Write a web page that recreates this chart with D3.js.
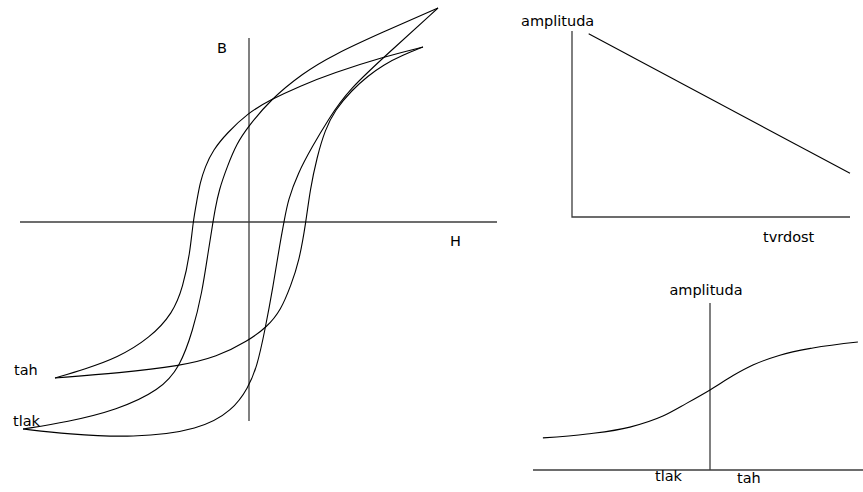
<!DOCTYPE html>
<html>
<head>
<meta charset="utf-8">
<script src="https://cdn.jsdelivr.net/npm/d3@7"></script>
<style>
  html, body { margin: 0; padding: 0; background: #fff; }
  svg { display: block; }
  text { font-family: "DejaVu Sans", Verdana, sans-serif; font-size: 14.5px; fill: #000; }
</style>
</head>
<body>
<svg id="chart" width="863" height="492"></svg>
<script>
// ---- Hysteresis diagram (H, B) ----
const hAxisDomain = [-11.45, 12.4];
const bAxisDomain = [-9.95, 9.2];

// loop under tension ("tah"): descending and ascending branches
const tahDescH = [8.7, 6.7, 4.2, 2.55, 1.05, -0.05, -1.1, -1.8, -2.2, -2.45, -2.6, -2.8, -2.95, -3.3, -3.8, -4.95, -6.6, -8.2, -9.7];
const tahDescB = [8.75, 8.25, 7.45, 6.8, 6.1, 5.45, 4.45, 3.6, 2.75, 1.95, 1.1, 0, -1.55, -3.25, -4.55, -5.8, -6.8, -7.35, -7.8];
const tahAscH = [-9.7, -6.45, -3.45, -1.6, -0.05, 0.9, 1.6, 2.1, 2.5, 2.85, 3.05, 3.4, 3.8, 4.3, 5.15, 5.95, 6.7, 7.7, 8.7];
const tahAscB = [-7.8, -7.55, -7.2, -6.75, -5.95, -5.25, -4.4, -3.15, -2.0, 0, 1.6, 3.25, 4.6, 5.6, 6.6, 7.3, 7.85, 8.35, 8.75];

// loop under compression ("tlak")
const tlakDescH = [9.45, 6.7, 4.2, 2.7, 1.05, -0.05, -0.6, -1.1, -1.5, -1.7, -1.8, -2.05, -2.35, -2.8, -3.45, -4.45, -6.6, -9.1, -11.3];
const tlakDescB = [10.7, 9.5, 8.35, 7.45, 6.1, 4.75, 3.95, 2.75, 1.6, 0.6, 0, -1.55, -3.55, -5.4, -7.25, -8.4, -9.4, -10.0, -10.35];
const tlakAscH = [-11.3, -9.1, -5.8, -2.45, -0.8, -0.05, 0.4, 0.8, 1.2, 1.55, 1.75, 1.95, 2.45, 3.15, 3.95, 4.95, 7.2, 9.45];
const tlakAscB = [-10.35, -10.6, -10.8, -10.4, -9.4, -8.3, -7.25, -5.4, -3.25, -1.05, 0, 1.1, 2.45, 3.75, 5.1, 6.6, 8.65, 10.7];

// ---- amplitude vs. hardness ----
const hardDomain = [0, 10];
const ampDomain = [0, 10];
const hardness = [0.6, 10.0];
const amplitudeByHardness = [9.85, 2.35];

// ---- amplitude vs. load (compression .. tension) ----
const loadDomain = [-5.9, 5.1];
const ampLoadDomain = [0, 5.57];
const load = [-5.57, -4.1, -2.67, -1.57, -0.77, 0, 0.77, 1.43, 2.33, 3.43, 4.93];
const amplitudeByLoad = [1.07, 1.2, 1.43, 1.8, 2.23, 2.67, 3.15, 3.5, 3.83, 4.07, 4.27];

const svg = d3.select("#chart");
const zip = (xs, ys) => xs.map((x, i) => [x, ys[i]]);
const axisStyle = sel => sel.attr("stroke", "#3c3c3c").attr("stroke-width", 1.3).attr("fill", "none");
const curveStyle = sel => sel.attr("stroke", "#000").attr("stroke-width", 1.1).attr("fill", "none");

// Hysteresis panel
const x1 = d3.scaleLinear().domain(hAxisDomain).range([20, 497]);
const y1 = d3.scaleLinear().domain(bAxisDomain).range([421, 38]);
const g1 = svg.append("g");
g1.append("line").call(axisStyle)
  .attr("x1", x1(hAxisDomain[0])).attr("x2", x1(hAxisDomain[1]))
  .attr("y1", y1(0)).attr("y2", y1(0));
g1.append("line").call(axisStyle)
  .attr("x1", x1(0)).attr("x2", x1(0))
  .attr("y1", y1(bAxisDomain[0])).attr("y2", y1(bAxisDomain[1]));

// each branch is a smooth B-spline from one loop tip to the other
const loopLine = d3.line().x(d => x1(d[0])).y(d => y1(d[1])).curve(d3.curveBasis);
[
  zip(tahDescH, tahDescB), zip(tahAscH, tahAscB),
  zip(tlakDescH, tlakDescB), zip(tlakAscH, tlakAscB)
].forEach(branch => g1.append("path").call(curveStyle).attr("d", loopLine(branch)));

g1.append("text").attr("x", 217).attr("y", 53).text("B");
g1.append("text").attr("x", 450).attr("y", 246).text("H");
g1.append("text").attr("x", 14).attr("y", 375).text("tah");
g1.append("text").attr("x", 13).attr("y", 426).text("tlak");

// Amplitude vs. hardness panel
const x2 = d3.scaleLinear().domain(hardDomain).range([572, 850]);
const y2 = d3.scaleLinear().domain(ampDomain).range([217, 31]);
const g2 = svg.append("g");
g2.append("path").call(axisStyle)
  .attr("d", `M${x2(0)},${y2(ampDomain[1])}V${y2(0)}H${x2(hardDomain[1])}`);
g2.append("path").call(curveStyle)
  .attr("d", d3.line().x(d => x2(d[0])).y(d => y2(d[1]))(zip(hardness, amplitudeByHardness)));
g2.append("text").attr("x", 521).attr("y", 26).text("amplituda");
g2.append("text").attr("x", 763).attr("y", 242).text("tvrdost");

// Amplitude vs. load panel
const x3 = d3.scaleLinear().domain(loadDomain).range([533, 863]);
const y3 = d3.scaleLinear().domain(ampLoadDomain).range([470, 303]);
const g3 = svg.append("g");
g3.append("line").call(axisStyle)
  .attr("x1", x3(loadDomain[0])).attr("x2", x3(loadDomain[1]))
  .attr("y1", y3(0)).attr("y2", y3(0));
g3.append("line").call(axisStyle)
  .attr("x1", x3(0)).attr("x2", x3(0))
  .attr("y1", y3(0)).attr("y2", y3(ampLoadDomain[1]));
g3.append("path").call(curveStyle)
  .attr("d", d3.line().x(d => x3(d[0])).y(d => y3(d[1])).curve(d3.curveMonotoneX)(zip(load, amplitudeByLoad)));
g3.append("text").attr("x", x3(0) - 4).attr("y", 295).attr("text-anchor", "middle").text("amplituda");
g3.append("text").attr("x", 655).attr("y", 481).text("tlak");
g3.append("text").attr("x", 737).attr("y", 483).text("tah");
</script>
</body>
</html>
